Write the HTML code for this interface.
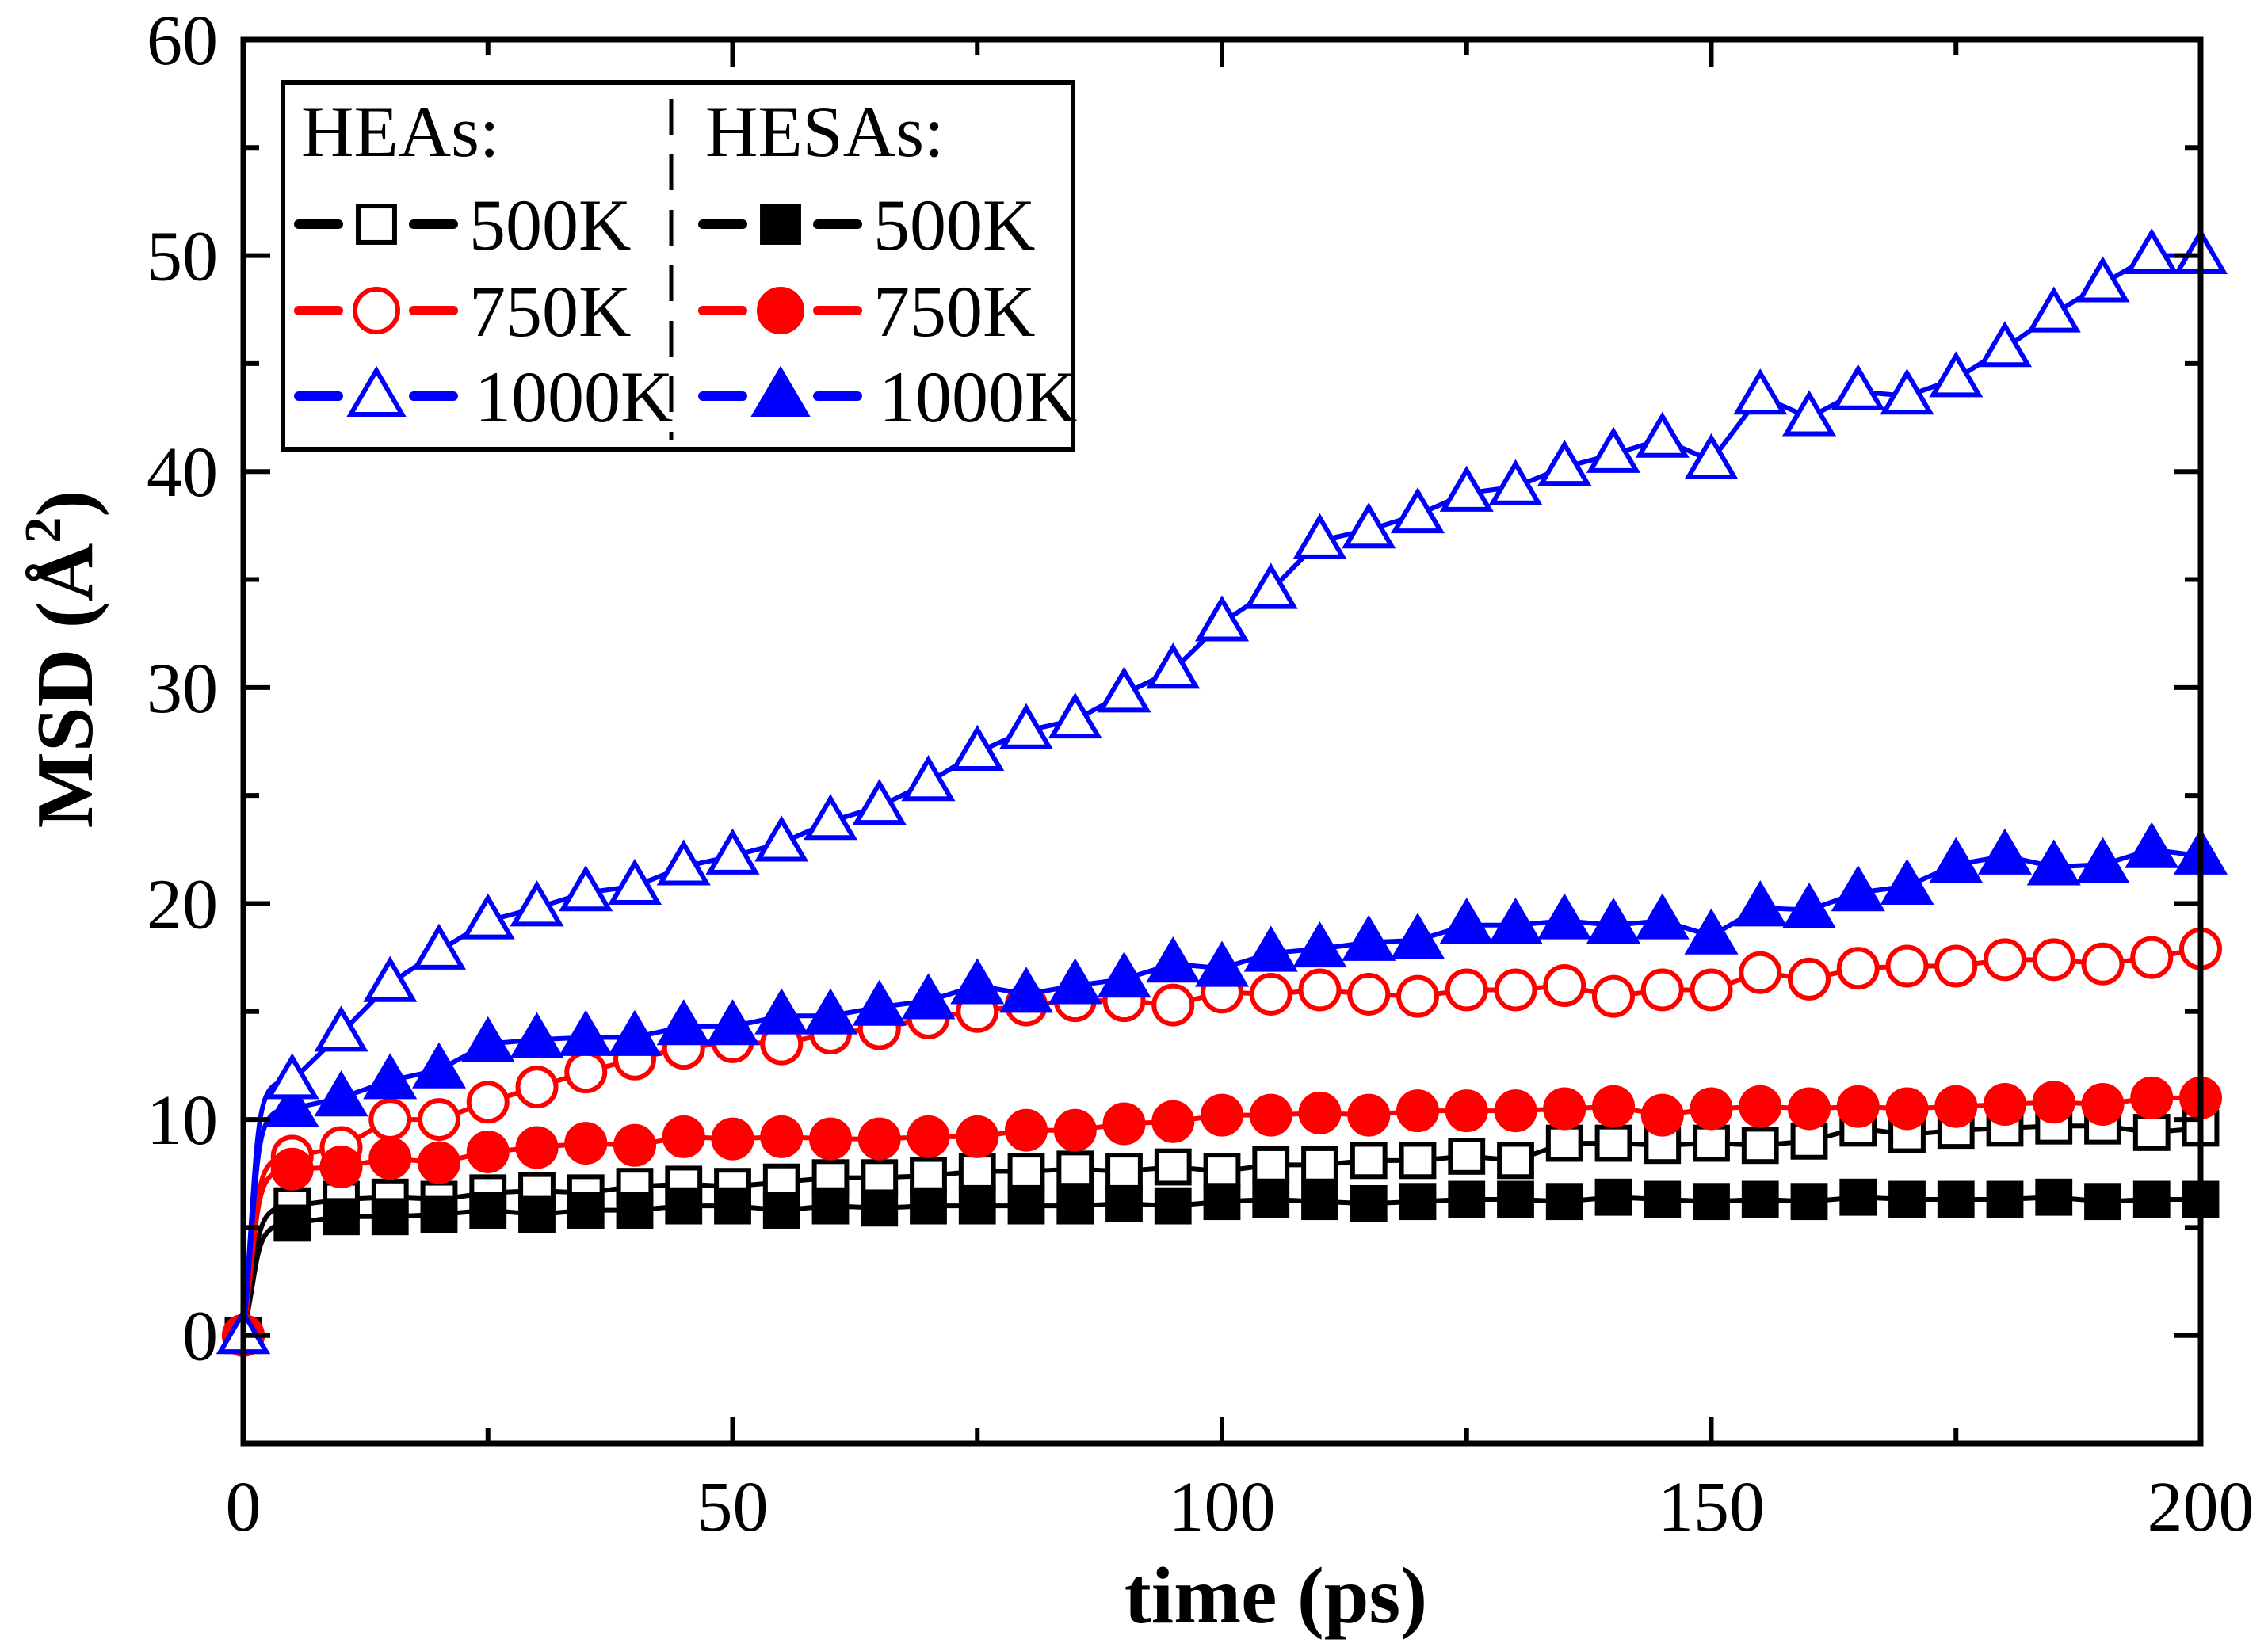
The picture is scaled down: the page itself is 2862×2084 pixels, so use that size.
<!DOCTYPE html>
<html><head><meta charset="utf-8"><style>
html,body{margin:0;padding:0;background:#fff;}
svg{display:block;font-family:"Liberation Serif",serif;}
</style></head><body>
<svg id="chart" width="2862" height="2084" viewBox="0 0 2862 2084" xmlns="http://www.w3.org/2000/svg">
<rect width="2862" height="2084" fill="#fff"/>
<g id="marks"></g>
<g id="axes"></g>
<text x="1610" y="2048" font-size="102" font-weight="bold" text-anchor="middle">time (ps)</text>
<text transform="translate(116,832) rotate(-90)" font-size="102" font-weight="bold" text-anchor="middle">MSD (Å<tspan font-size="66" dy="-40">2</tspan><tspan dy="40">)</tspan></text>
<g id="legend"></g>
</svg>
<script>
const times = [0,5,10,15,20,25,30,35,40,45,50,55,60,65,70,75,80,85,90,95,100,105,110,115,120,125,130,135,140,145,150,155,160,165,170,175,180,185,190,195,200];
const hea500 = [0,6,6.3,6.4,6.3,6.6,6.7,6.6,6.9,7,6.9,7.1,7.3,7.3,7.4,7.6,7.6,7.7,7.6,7.8,7.6,7.9,7.9,8.1,8.1,8.3,8.1,8.9,8.9,8.8,8.9,8.8,9,9.6,9.3,9.5,9.6,9.7,9.7,9.4,9.6];
const hesa500 = [0,5.2,5.5,5.5,5.6,5.8,5.6,5.8,5.8,6,6,5.8,6,5.9,6,6,6,6,6.1,6,6.2,6.3,6.2,6.1,6.2,6.3,6.3,6.2,6.4,6.3,6.2,6.3,6.2,6.4,6.3,6.3,6.3,6.4,6.2,6.3,6.3];
const hea750 = [0,8.3,8.7,10,10,10.8,11.5,12.2,12.8,13.3,13.6,13.5,14,14.2,14.7,15,15.3,15.5,15.5,15.3,15.9,15.8,16,15.8,15.7,16,16,16.2,15.7,16,16,16.8,16.5,17,17.1,17.1,17.4,17.4,17.2,17.5,17.9];
const hesa750 = [0,7.7,7.8,8.2,8,8.5,8.7,8.9,8.8,9.2,9.1,9.2,9.1,9.1,9.2,9.2,9.5,9.5,9.8,9.9,10.2,10.2,10.3,10.2,10.4,10.4,10.4,10.5,10.6,10.2,10.5,10.6,10.5,10.6,10.5,10.6,10.7,10.8,10.7,11,11];
const hea1000 = [0,11.8,14,16.3,17.8,19.2,19.8,20.5,20.8,21.7,22.2,22.8,23.8,24.5,25.6,27,28,28.5,29.7,30.8,33,34.5,36.8,37.3,38,39,39.3,40.2,40.8,41.5,40.5,43.5,42.5,43.7,43.5,44.3,45.7,47.3,48.7,50,50];
const hesa1000 = [0,10.5,11,11.8,12.3,13.5,13.7,13.8,13.8,14.3,14.3,14.8,14.8,15.2,15.5,16.2,15.8,16.2,16.5,17.2,17,17.7,17.9,18.2,18.3,19,19,19.2,19,19.2,18.5,19.8,19.7,20.5,20.8,21.8,22.2,21.7,21.8,22.5,22.2];
const xTicks = [0,50,100,150,200];
const xTickLabels = ["0","50","100","150","200"];
const yTicks = [0,10,20,30,40,50,60];
const yTickLabels = ["0","10","20","30","40","50","60"];

const NS="http://www.w3.org/2000/svg";
const L=307,R=2777,T=50,B=1822;
const xMin=0,xMax=200,yMin=-5,yMax=60;
const xs=v=>L+(v-xMin)/(xMax-xMin)*(R-L);
const ys=v=>B-(v-yMin)/(yMax-yMin)*(B-T);
function mk(tag,attrs,parent){const e=document.createElementNS(NS,tag);for(const k in attrs)e.setAttribute(k,attrs[k]);parent.appendChild(e);return e;}
const marks=document.getElementById('marks'),axes=document.getElementById('axes'),legend=document.getElementById('legend');

function marker(shape,filled,color,cx,cy,parent,s){
  s=s||24;
  const fill=filled?color:'#fff';
  let e;
  if(shape==='sq') e=mk('rect',{x:cx-s*0.85,y:cy-s*0.85,width:s*1.7,height:s*1.7,fill:fill,stroke:color,'stroke-width':6},parent);
  else if(shape==='ci') e=mk('circle',{cx:cx,cy:cy,r:s,fill:fill,stroke:color,'stroke-width':6},parent);
  else e=mk('polygon',{points:`${cx},${cy-s*1.2} ${cx-s*1.2},${cy+s*0.85} ${cx+s*1.2},${cy+s*0.85}`,fill:fill,stroke:color,'stroke-width':6,'stroke-linejoin':'miter'},parent);
  return e;
}
const series=[
 {name:'hea-500k',data:hea500,shape:'sq',filled:false,color:'#000'},
 {name:'hesa-500k',data:hesa500,shape:'sq',filled:true,color:'#000'},
 {name:'hea-750k',data:hea750,shape:'ci',filled:false,color:'#f00'},
 {name:'hesa-750k',data:hesa750,shape:'ci',filled:true,color:'#f00'},
 {name:'hesa-1000k',data:hesa1000,shape:'tr',filled:true,color:'#00f'},
 {name:'hea-1000k',data:hea1000,shape:'tr',filled:false,color:'#00f'}
];
series.forEach(s=>{
  const g=mk('g',{},marks);
  
  
  let d='';
  s.data.forEach((v,i)=>{
    const x=xs(times[i]),y=ys(v);
    if(i===0) d+=`M${x},${y}`;
    else if(i===1){d+=` C${x-40},${y+40} ${x-50},${y} ${x},${y}`;}
    else d+=` L${x},${y}`;
  });
  const p=mk('path',{d:d,fill:'none',stroke:s.color,'stroke-width':6},g);
  
  
  s.data.forEach((v,i)=>{
    const m=marker(s.shape,s.filled,s.color,xs(times[i]),ys(v),g);
    
    
  });
});

const fr=mk('rect',{x:L,y:T,width:R-L,height:B-T,fill:'none',stroke:'#000','stroke-width':7},axes);


for(let v=0;v<=200;v+=25){
  const maj=v%50===0,len=maj?34:20,x=xs(v);
  const t1=mk('line',{x1:x,y1:B,x2:x,y2:B-len,stroke:'#000','stroke-width':6},axes);
  
  
  const t2=mk('line',{x1:x,y1:T,x2:x,y2:T+len,stroke:'#000','stroke-width':6},axes);
  
  
}
xTicks.forEach((v,i)=>{
  const t=mk('text',{x:xs(v),y:1932,'font-size':90,'text-anchor':'middle'},axes);
  t.textContent=xTickLabels[i];
  
  
});
for(let v=-5;v<=60;v+=5){
  const maj=v%10===0,len=maj?34:20,y=ys(v);
  const t1=mk('line',{x1:L,y1:y,x2:L+len,y2:y,stroke:'#000','stroke-width':6},axes);
  
  
  const t2=mk('line',{x1:R,y1:y,x2:R-len,y2:y,stroke:'#000','stroke-width':6},axes);
  
  
}
yTicks.forEach((v,i)=>{
  const t=mk('text',{x:275,y:ys(v)+31,'font-size':90,'text-anchor':'end'},axes);
  t.textContent=yTickLabels[i];
  
  
});

const lb=mk('rect',{x:357,y:104,width:997,height:463,fill:'#fff',stroke:'#000','stroke-width':6},legend);


const dv=mk('line',{x1:847,y1:125,x2:847,y2:555,stroke:'#000','stroke-width':5,'stroke-dasharray':'45,25'},legend);


[['HEAs:',380],['HESAs:',890]].forEach(h=>{
  const t=mk('text',{x:h[1],y:197,'font-size':92},legend);
  t.textContent=h[0];
  
  
});
const rows=[['500K','sq','#000',283],['750K','ci','#f00',392],['1000K','tr','#00f',500]];
[[377,false],[887,true]].forEach(col=>{
  rows.forEach(r=>{
    const g=mk('g',{},legend);
    
    
    const x0=col[0],y=r[3];
    mk('line',{x1:x0,y1:y,x2:x0+50,y2:y,stroke:r[2],'stroke-width':12,'stroke-linecap':'round'},g);
    mk('line',{x1:x0+145,y1:y,x2:x0+195,y2:y,stroke:r[2],'stroke-width':12,'stroke-linecap':'round'},g);
    marker(r[1],col[1],r[2],x0+98,y,g,27);
    const t=mk('text',{x:x0+(r[0]==='1000K'?222:215),y:y+32,'font-size':92},g);
    t.textContent=r[0];
  });
});
</script>
</body></html>
